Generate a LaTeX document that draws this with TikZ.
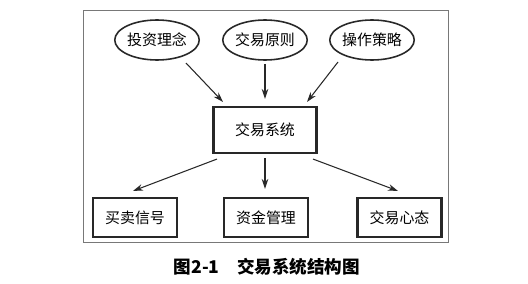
\documentclass[tikz,border=0pt]{standalone}
\usepackage{fontspec}
\setmainfont{Noto Sans CJK SC}
\usepackage{tikz}
\usetikzlibrary{arrows.meta, positioning, shapes.geometric, calc}
\definecolor{framegray}{RGB}{120,120,120}
\definecolor{inkgray}{RGB}{40,40,40}

\begin{document}
\begin{tikzpicture}[x=0.02cm, y=-0.02cm,
  idea/.style={draw=inkgray, ellipse, line width=0.9pt, minimum width=1.62cm, minimum height=0.8cm,
               inner sep=0pt, font=\fontsize{8.5}{10}\selectfont},
  box/.style={draw=inkgray, line width=1.2pt, minimum width=1.68cm, minimum height=0.78cm,
              inner sep=0pt, font=\fontsize{8.5}{10}\selectfont},
  core/.style={box, minimum width=2.06cm, minimum height=0.92cm},
  arr/.style={-{Stealth[length=2mm, width=1.3mm]}, semithick, inkgray}
]
  \useasboundingbox (0,0) rectangle (528,284);
  \draw[framegray] (83,10) rectangle (448,242);

  \node[idea] (invest) at (157,40) {投资理念};
  \node[idea] (rule)   at (265,40) {交易原则};
  \node[idea] (tactic) at (372,40) {操作策略};

  \node[core] (sys) at (265,130) {交易系统};

  \node[box] (signal) at (135,217.5)   {买卖信号};
  \node[box] (money)  at (266,217.5)   {资金管理};
  \node[box] (mind)   at (399.5,217.5) {交易心态};

  \node[font=\bfseries] (caption) at (267,267) {图2-1\quad 交易系统结构图};

  \draw[arr] ($(invest)+(29,23)$) -- ($(sys.north)+(-42,-4)$);
  \draw[arr] ($(rule.south)+(0,3)$) -- ($(sys.north)+(0,-7)$);
  \draw[arr] ($(tactic)+(-34,22)$) -- ($(sys.north)+(42,-4)$);

  \draw[arr] ($(sys.south)+(-48,5)$) -- ($(signal.north)+(-2,-6)$);
  \draw[arr] ($(sys.south)+(0,4)$) -- ($(money.north)+(-1,-8)$);
  \draw[arr] ($(sys.south)+(48,5)$) -- ($(mind.north)+(-1.5,-6)$);
\end{tikzpicture}
\end{document}
